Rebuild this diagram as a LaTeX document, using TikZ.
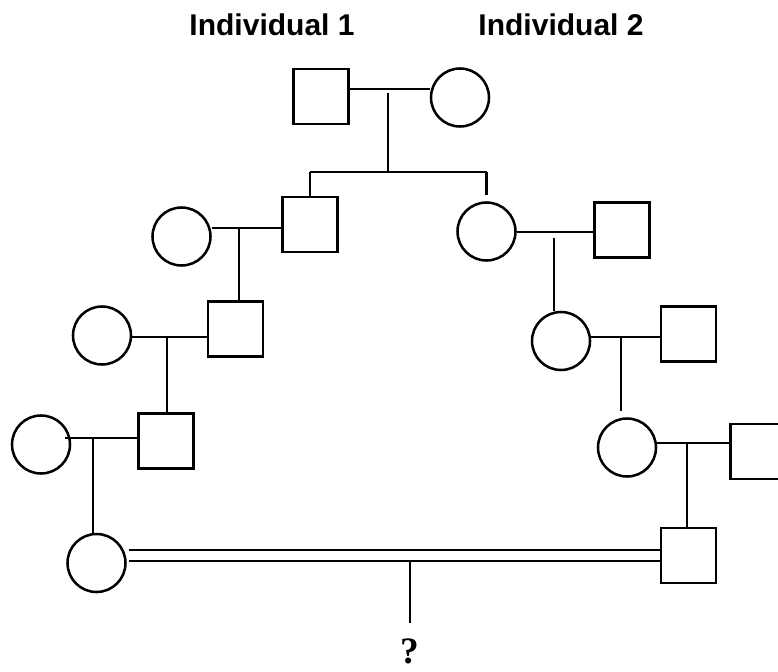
\documentclass[tikz,border=0pt]{standalone}
\usepackage{fontspec}
\setmainfont{Liberation Serif}
\newfontfamily\labelfont{Liberation Sans}
\tikzset{
  male/.style={draw, line width=1.9pt, rectangle, minimum size=41.5pt, inner sep=0pt},
  female/.style={draw, line width=1.9pt, circle, minimum size=43.5pt, inner sep=0pt},
  link/.style={line width=1.9pt},
  header/.style={font=\labelfont\bfseries\fontsize{22.5}{26}\selectfont, anchor=base, inner sep=0pt},
  qmark/.style={font=\bfseries\fontsize{28}{32}\selectfont, anchor=base, inner sep=0pt}
}
\begin{document}
\begin{tikzpicture}[x=0.75pt, y=-0.75pt]
\clip (0,0) rectangle (778,671);
\fill[white] (0,0) rectangle (778,671);
% headers
\node[header] (h1) at (272,35) {Individual 1};
\node[header] (h2) at (561,35) {Individual 2};
% generation 1
\node[male] (A) at (321,96.5) {};
\node[female] (B) at (460,97.5) {};
% left line
\node[male] (C) at (310,224.5) {};
\node[female] (D) at (181.5,236.5) {};
\node[male] (E) at (235.5,329) {};
\node[female] (F) at (102,335.5) {};
\node[male] (G) at (166,441) {};
\node[female] (H) at (41,444.5) {};
\node[female] (I) at (96.5,563) {};
% right line
\node[female] (J) at (486.5,231.5) {};
\node[male] (K) at (622,230) {};
\node[female] (L) at (561,341) {};
\node[male] (M) at (688.5,334) {};
\node[female] (N) at (627,447.5) {};
\node[male] (O) at (758,451.5) {};
\node[male] (P) at (688.5,555.5) {};
% helper coordinates
\coordinate (mAB) at (388,89);
\coordinate (sAB) at (388,172);
\coordinate (mCD) at (239,228);
\coordinate (mEF) at (167,337);
\coordinate (mGH) at (93,438);
\coordinate (mJK) at (554,232);
\coordinate (mLM) at (621,337);
\coordinate (mNO) at (687,443);
\coordinate (cIP) at (410,561);
\coordinate (q) at (410,623);
% gen 1 marriage and sibship
\draw[link] (A.east |- mAB) -- (B.west |- mAB);
\draw[link] ([yshift=-3pt]mAB) -- (sAB);
\draw[link] (C.north |- sAB) -- (J.north |- sAB);
\draw[link] (C.north |- sAB) -- (C.north);
\draw[link] (J.north |- sAB) -- ([yshift=4.5pt]J.north);
% left side
\draw[link] (D.east |- mCD) -- (C.west |- mCD);
\draw[link] (mCD) -- (E.north -| mCD);
\draw[link] (F.east |- mEF) -- (E.west |- mEF);
\draw[link] (mEF) -- (G.north -| mEF);
\draw[link] ([xshift=-4.5pt]H.east |- mGH) -- (G.west |- mGH);
\draw[link] (mGH) -- (I.north -| mGH);
% right side
\draw[link] (J.east |- mJK) -- (K.west |- mJK);
\draw[link] ([yshift=-4.5pt]mJK) -- (L.north -| mJK);
\draw[link] (L.east |- mLM) -- (M.west |- mLM);
\draw[link] (mLM) -- ([yshift=4.5pt]N.north -| mLM);
\draw[link] (N.east |- mNO) -- ([xshift=2.5pt]O.west |- mNO);
\draw[link] (mNO) -- (P.north -| mNO);
% consanguineous marriage
\draw[link] ([xshift=2pt]I.east |- 0,550) -- (P.west |- 0,550);
\draw[link] ([xshift=2pt]I.east |- cIP) -- (P.west |- cIP);
\draw[link] (cIP) -- (q);
\node[qmark] (qm) at (410,663) {?};
\end{tikzpicture}
\end{document}
